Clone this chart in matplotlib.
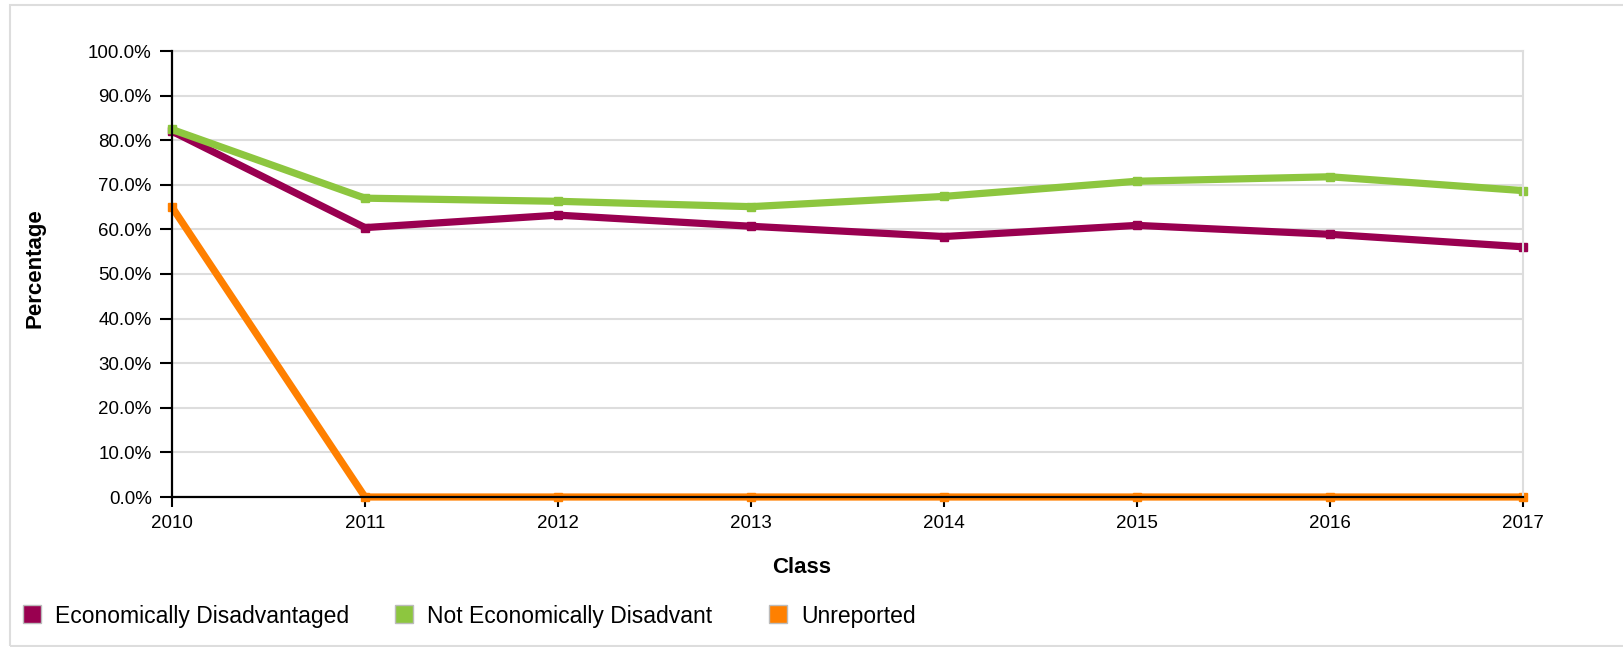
import matplotlib.pyplot as plt
from matplotlib.lines import Line2D
from matplotlib.patches import Rectangle
from matplotlib.ticker import FuncFormatter

plt.rcParams['font.family'] = ['Liberation Sans', 'DejaVu Sans']

# ---------------------------------------------------
# data
# ---------------------------------------------------
years = [2010, 2011, 2012, 2013, 2014, 2015, 2016, 2017]
econ_dis = [82.0, 60.4, 63.2, 60.7, 58.4, 60.9, 58.9, 56.1]
not_econ_dis = [82.4, 67.0, 66.3, 65.1, 67.4, 70.8, 71.8, 68.7]
unreported = [65.0, 0, 0, 0, 0, 0, 0, 0]

series_names = ["Economically Disadvantaged", "Not Economically Disadvant", "Unreported"]
colors = ["#990050", "#8DC63F", "#FF8000"]

# ---------------------------------------------------
# figure
# ---------------------------------------------------
W, H = 1623, 647
fig = plt.figure(figsize=(W / 100, H / 100), dpi=100)
ax = fig.add_axes([172 / W, 1 - 497 / H, (1523 - 172) / W, (497 - 51) / H])

for vals, c in zip([econ_dis, not_econ_dis, unreported], colors):
    ax.plot(years, vals, color=c, lw=5.2, marker="s", markersize=5.5,
            solid_capstyle="butt", clip_on=False, zorder=2)

ax.set_xlim(2010, 2017)
ax.set_ylim(0, 100)
ax.set_yticks(range(0, 101, 10))
ax.set_xticks(years)
ax.yaxis.set_major_formatter(FuncFormatter(lambda v, p: f"{v:.1f}%"))

ax.grid(axis="y", color="#DDDDDD", lw=1.5, zorder=0)
ax.set_axisbelow(True)

for s in ["left", "bottom"]:
    ax.spines[s].set_color("black")
    ax.spines[s].set_linewidth(1.6)
    ax.spines[s].set_zorder(3)
for s in ["top", "right"]:
    ax.spines[s].set_color("#DDDDDD")
    ax.spines[s].set_linewidth(1.5)

ax.tick_params(axis="y", length=8.5, width=1.5, pad=6, labelsize=13.5)
ax.tick_params(axis="x", length=7, width=1.5, pad=6, labelsize=13.5)

ax.set_xlabel("Class", fontsize=16, fontweight="bold")
ax.set_ylabel("Percentage", fontsize=16, fontweight="bold")
ax.xaxis.set_label_coords(0.466, -0.135)
ax.yaxis.set_label_coords(-0.094, 0.513)

# legend: one entry per anchor so the spacing follows the reference
legend_x = [21, 393, 767]
for name, c, lx in zip(series_names, colors, legend_x):
    h = Line2D([], [], ls="none", marker="s", markersize=13.5,
               markerfacecolor=c, markeredgecolor="#BBBBBB", markeredgewidth=1)
    fig.legend([h], [name], loc="center left",
               bbox_to_anchor=(lx / W, 1 - 616 / H), frameon=False,
               fontsize=16.5, handlelength=1.0, handletextpad=0.5,
               borderpad=0, borderaxespad=0)

# outer border
fig.patches.append(Rectangle((10 / W, 1 / H), 1.05, 641 / H, transform=fig.transFigure,
                             fill=False, edgecolor="#DDDDDD", lw=1.5, clip_on=False))

fig.savefig("out.png", dpi=100)
